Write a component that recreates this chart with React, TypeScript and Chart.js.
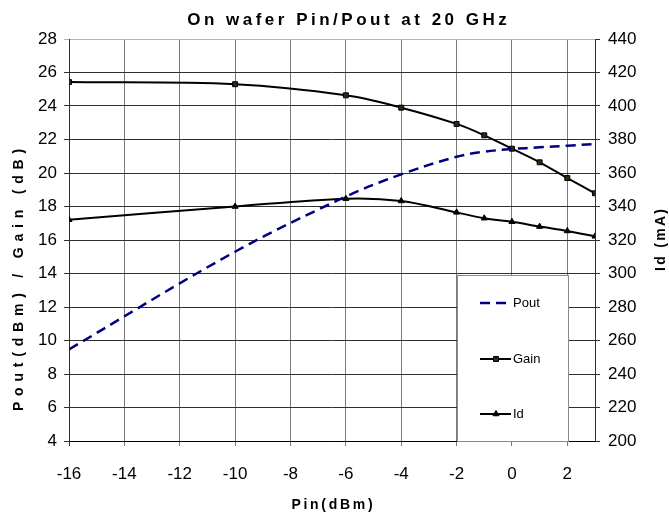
import { useEffect, useRef } from 'react';
import { Chart, registerables } from 'chart.js';

Chart.register(...registerables);

// ---- data ----
const PIN = [-16, -10, -6, -4, -2, -1, 0, 1, 2, 3];
const POUT = [9.47, 15.3, 18.59, 19.92, 20.97, 21.27, 21.43, 21.53, 21.63, 21.73];
const GAIN = [25.43, 25.3, 24.64, 23.9, 22.93, 22.25, 21.45, 20.64, 19.7, 18.79];
const ID = [332.1, 340, 344.7, 343.3, 336.5, 333, 330.9, 328, 325.4, 322.2];
const X_TICKS = [-16, -14, -12, -10, -8, -6, -4, -2, 0, 2];

const TITLE = 'On wafer Pin/Pout at 20 GHz';
const X_TITLE = 'Pin(dBm)';
const Y_TITLE = 'Pout(dBm) / Gain (dB)';
const Y1_TITLE = 'Id (mA)';
const SERIES_NAMES = ['Pout', 'Gain', 'Id'];

const FONT = '"Liberation Sans", Arial, sans-serif';

function drawMarker(ctx: CanvasRenderingContext2D, style: string, x: number, y: number, r: number) {
  ctx.beginPath();
  if (style === 'rect') {
    const s = r * Math.SQRT1_2;
    ctx.rect(x - s, y - s, 2 * s, 2 * s);
  } else if (style === 'triangle') {
    ctx.moveTo(x, y - r);
    ctx.lineTo(x + r * 0.866, y + r * 0.5);
    ctx.lineTo(x - r * 0.866, y + r * 0.5);
    ctx.closePath();
  }
  ctx.fill();
  ctx.stroke();
}

const textPlugin = {
  id: 'customTexts',
  afterDraw(chart: any) {
    const ctx: CanvasRenderingContext2D = chart.ctx;
    const ca = chart.chartArea;
    const draw = (text: string, x: number, y: number, rot: number, font: string, spacing: number) => {
      ctx.save();
      ctx.translate(x, y);
      ctx.rotate(rot);
      ctx.font = font;
      (ctx as any).letterSpacing = spacing + 'px';
      ctx.fillStyle = '#000';
      ctx.textAlign = 'center';
      ctx.textBaseline = 'middle';
      ctx.fillText(text, spacing / 2, 0);
      ctx.restore();
    };
    draw(TITLE, 347, 20, 0, `bold 17px ${FONT}`, 3.5);
    draw(X_TITLE, (ca.left + ca.right) / 2, 505, 0, `bold 14px ${FONT}`, 2.7);
    draw(Y_TITLE, 19, 280, -Math.PI / 2, `bold 14px ${FONT}`, 5.8);
    draw(Y1_TITLE, 661, (ca.top + ca.bottom) / 2, -Math.PI / 2, `bold 14px ${FONT}`, 2.3);

    // legend box
    const bx = 457, by = 275, bw = 111, bh = ca.bottom - 275;
    ctx.save();
    ctx.fillStyle = '#fff';
    ctx.fillRect(bx, by, bw, bh);
    ctx.strokeStyle = '#8a8a8a';
    ctx.lineWidth = 1;
    ctx.strokeRect(bx + 0.5, by + 0.5, bw, bh);
    const rows = [303, 359, 414];
    chart.data.datasets.forEach((ds: any, i: number) => {
      const y = rows[i];
      ctx.save();
      ctx.strokeStyle = ds.borderColor;
      ctx.lineWidth = ds.borderWidth;
      ctx.setLineDash(ds.borderDash || []);
      ctx.beginPath();
      ctx.moveTo(480, y);
      ctx.lineTo(511, y);
      ctx.stroke();
      ctx.setLineDash([]);
      if (ds.pointRadius > 0) {
        ctx.fillStyle = ds.pointBackgroundColor;
        ctx.strokeStyle = ds.pointBorderColor;
        ctx.lineWidth = 1;
        drawMarker(ctx, ds.pointStyle, 496, y, ds.pointRadius);
      }
      ctx.restore();
      ctx.fillStyle = '#000';
      ctx.font = `13px ${FONT}`;
      ctx.textAlign = 'left';
      ctx.textBaseline = 'middle';
      ctx.fillText(ds.label, 513, y);
    });
    ctx.restore();
  },
};

export default function App() {
  const ref = useRef<HTMLCanvasElement>(null);

  useEffect(() => {
    if (!ref.current) return;
    const pts = (ys: number[]) => PIN.map((x, i) => ({ x, y: ys[i] }));
    const tickFont = { family: FONT, size: 17 };
    const chart = new Chart(ref.current, {
      type: 'line',
      data: {
        datasets: [
          {
            label: SERIES_NAMES[0],
            data: pts(POUT),
            yAxisID: 'y',
            borderColor: '#000080',
            borderWidth: 2.5,
            borderDash: [10, 6],
            pointRadius: 0,
            tension: 0.35,
          },
          {
            label: SERIES_NAMES[1],
            data: pts(GAIN),
            yAxisID: 'y',
            borderColor: '#000',
            borderWidth: 2,
            pointStyle: 'rect',
            pointRadius: 3.5,
            pointBackgroundColor: '#2a2a10',
            pointBorderColor: '#000',
            pointBorderWidth: 1,
            tension: 0.35,
          },
          {
            label: SERIES_NAMES[2],
            data: pts(ID),
            yAxisID: 'y1',
            borderColor: '#000',
            borderWidth: 2,
            pointStyle: 'triangle',
            pointRadius: 3.5,
            pointBackgroundColor: '#000',
            pointBorderColor: '#000',
            pointBorderWidth: 1,
            tension: 0.35,
          },
        ] as any,
      },
      options: {
        responsive: false,
        animation: false,
        layout: { padding: { top: 39, left: 0, right: 0, bottom: 0 } },
        plugins: {
          legend: { display: false },
          title: { display: false },
          tooltip: { enabled: false },
        },
        scales: {
          x: {
            type: 'linear',
            min: -16,
            max: 3,
            afterBuildTicks: (s: any) => {
              s.ticks = X_TICKS.map((v) => ({ value: v }));
            },
            afterFit: (s: any) => {
              s.height = 77;
            },
            ticks: { font: tickFont, color: '#000', padding: 18, maxRotation: 0, autoSkip: false },
            grid: {
              color: (c: any) => (c.tick && c.tick.value === -16 ? '#303030' : '#7a7a7a'),
              tickLength: 5,
              lineWidth: 1,
            },
            border: { color: '#000', width: 1 },
          },
          y: {
            type: 'linear',
            position: 'left',
            min: 4,
            max: 28,
            ticks: { stepSize: 2, font: tickFont, color: '#000', padding: 7 },
            afterFit: (s: any) => {
              s.width = 69;
            },
            grid: {
              color: (c: any) => (c.tick && c.tick.value === 28 ? '#b4b4b4' : '#303030'),
              tickLength: 5,
              lineWidth: 1,
            },
            border: { color: '#303030', width: 1 },
          },
          y1: {
            type: 'linear',
            position: 'right',
            min: 200,
            max: 440,
            ticks: { stepSize: 20, font: tickFont, color: '#000', padding: 8 },
            afterFit: (s: any) => {
              s.width = 74;
            },
            grid: { drawOnChartArea: false, color: '#303030', tickLength: 5 },
            border: { color: '#303030', width: 1 },
          },
        },
      } as any,
      plugins: [textPlugin],
    });
    return () => chart.destroy();
  }, []);

  return (
    <div style={{ position: 'absolute', left: 0, top: 0, width: 669, height: 518, background: '#fff' }}>
      <canvas ref={ref} width={669} height={518} />
    </div>
  );
}
